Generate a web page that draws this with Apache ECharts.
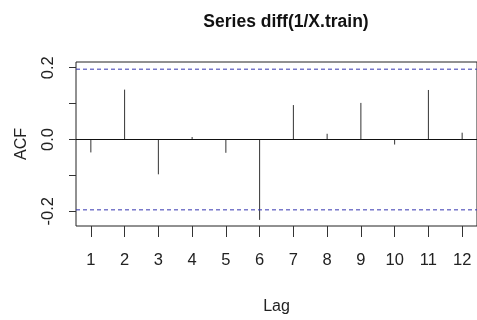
<!DOCTYPE html>
<html>
<head>
<meta charset="utf-8">
<script src="https://cdn.jsdelivr.net/npm/echarts@6/dist/echarts.min.js"></script>
<style>
  html, body { margin: 0; padding: 0; background: #fff; }
  #chart { width: 477px; height: 320px; }
</style>
</head>
<body>
<div id="chart"></div>
<script>
// lags and autocorrelations
const lags = [1, 2, 3, 4, 5, 6, 7, 8, 9, 10, 11, 12];
const acfValues = [-0.036, 0.139, -0.097, 0.007, -0.037, -0.224, 0.096, 0.016, 0.102, -0.014, 0.138, 0.019];
const ciLimit = 0.196;
const yTicks = [-0.2, -0.1, 0, 0.1, 0.2];
const yLabels = [-0.2, 0, 0.2];
const xRange = [0.56, 12.44];

const chart = echarts.init(document.getElementById('chart'));

const fontFamily = '"Liberation Sans", Arial, sans-serif';
const ciColor = '#3535b0';

const ciSeries = (level) => ({
  type: 'line',
  silent: true,
  symbol: 'none',
  data: xRange.map(x => [x, level]),
  itemStyle: { color: ciColor },
  lineStyle: { color: ciColor, type: [4, 3], width: 1 }
});

const option = {
  animation: false,
  title: {
    text: 'Series diff(1/X.train)',
    left: 281,
    top: 8,
    textAlign: 'center',
    textStyle: {
      fontFamily: fontFamily,
      fontSize: 17.5,
      fontWeight: 'bold',
      color: '#111'
    }
  },
  grid: {
    left: 76,
    top: 62,
    width: 404,
    height: 165,
    show: true,
    borderColor: '#222',
    borderWidth: 1,
    backgroundColor: 'transparent'
  },
  xAxis: {
    type: 'value',
    min: xRange[0],
    max: xRange[1],
    name: 'Lag',
    nameLocation: 'middle',
    nameGap: 73,
    nameTextStyle: { fontFamily: fontFamily, fontSize: 16, color: '#222' },
    splitLine: { show: false },
    axisLine: { show: false, onZero: false },
    axisTick: {
      show: true,
      length: 11,
      customValues: lags,
      lineStyle: { color: '#333' }
    },
    axisLabel: {
      margin: 26,
      customValues: lags,
      fontFamily: fontFamily,
      fontSize: 16.5,
      color: '#222'
    }
  },
  yAxis: {
    type: 'value',
    min: -0.241,
    max: 0.216,
    name: 'ACF',
    nameLocation: 'middle',
    nameGap: 46,
    nameTextStyle: { fontFamily: fontFamily, fontSize: 16, color: '#222' },
    splitLine: { show: false },
    axisLine: { show: false, onZero: false },
    axisTick: {
      show: true,
      length: 7,
      customValues: yTicks,
      lineStyle: { color: '#333' }
    },
    axisLabel: {
      rotate: 90,
      margin: 19,
      customValues: yLabels,
      formatter: v => v.toFixed(1),
      fontFamily: fontFamily,
      fontSize: 16.5,
      color: '#222'
    }
  },
  series: [
    ciSeries(ciLimit),
    ciSeries(-ciLimit),
    {
      name: 'ACF',
      type: 'custom',
      data: lags.map((l, i) => [l, acfValues[i]]),
      renderItem: (params, api) => {
        const base = api.coord([api.value(0), 0]);
        const tip = api.coord([api.value(0), api.value(1)]);
        return {
          type: 'line',
          shape: { x1: base[0], y1: base[1], x2: tip[0], y2: tip[1] },
          style: { stroke: '#333', lineWidth: 1 }
        };
      },
      markLine: {
        silent: true,
        symbol: 'none',
        label: { show: false },
        lineStyle: { color: '#111', type: 'solid', width: 1 },
        data: [{ yAxis: 0 }]
      }
    }
  ]
};

chart.setOption(option);
</script>
</body>
</html>
